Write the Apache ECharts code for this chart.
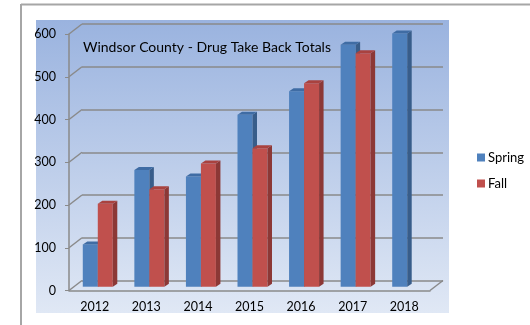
<!DOCTYPE html>
<html><head><meta charset="utf-8">
<script src="https://cdn.jsdelivr.net/npm/echarts@6/dist/echarts.min.js"></script>
<style>html,body{margin:0;padding:0;background:#fff}#c{width:530px;height:325px}</style>
</head><body><div id="c"></div>
<script>
var years = ['2012','2013','2014','2015','2016','2017','2018'];
var spring = [99, 273, 258, 402, 457, 566, 592];
var fall = [194, 228, 288, 324, 476, 546, null];
var yTicks = [0, 100, 200, 300, 400, 500, 600];
var titleText = 'Windsor County - Drug Take Back Totals';

var FONT = 'Lato';
var chart = echarts.init(document.getElementById('c'), null, {renderer: 'canvas'});

var BACK_DX = 13, BACK_DY = -10;
var BAR_DX = 3, BAR_DY = -3.8, BAR_W = 15, SIDE_DX = 4.5, SIDE_DY = -3;

function barRender(isFall, front, side, top) {
  return function (params, api) {
    var v = api.value(1);
    if (v == null || isNaN(v)) return;
    var i = api.value(0);
    var base = api.coord([i, 0]);
    var tp = api.coord([i, v]);
    var cx = base[0];
    var x0 = isFall ? cx + BAR_DX : cx + BAR_DX - BAR_W;
    var x1 = x0 + BAR_W;
    var yb = base[1] + BAR_DY, yt = tp[1] + BAR_DY;
    return {
      type: 'group',
      children: [
        {type: 'rect', shape: {x: x0, y: yt, width: BAR_W, height: yb - yt}, style: {fill: front}},
        {type: 'polygon', shape: {points: [[x1, yt], [x1 + SIDE_DX, yt + SIDE_DY], [x1 + SIDE_DX, yb + SIDE_DY], [x1, yb]]}, style: {fill: side}},
        {type: 'polygon', shape: {points: [[x0, yt], [x0 + SIDE_DX, yt + SIDE_DY], [x1 + SIDE_DX, yt + SIDE_DY], [x1, yt]]}, style: {fill: top}}
      ]
    };
  };
}

function diagRender(params, api) {
  var v = api.value(0);
  var p = api.coord([0, v]);
  var x = p[0] - api.size([1, 0])[0] / 2;
  return {type: 'line', shape: {x1: x, y1: p[1], x2: x + BACK_DX, y2: p[1] + BACK_DY}, style: {stroke: '#8a8a8a', lineWidth: 1.5}};
}
function floorRender(params, api) {
  var p = api.coord([years.length - 1, 0]);
  var x = p[0] + api.size([1, 0])[0] / 2;
  return {type: 'line', shape: {x1: x, y1: p[1], x2: x + BACK_DX, y2: p[1] + BACK_DY}, style: {stroke: '#8a8a8a', lineWidth: 1.5}};
}

var option = {
  animation: false,
  textStyle: {fontFamily: FONT},
  graphic: [
    {type: 'rect', z: -10, shape: {x: 36, y: 20, width: 413, height: 293},
     style: {fill: new echarts.graphic.LinearGradient(0, 0, 0, 1, [{offset: 0, color: '#9ab3df'}, {offset: 1, color: '#e0e8f5'}])}},
    {type: 'line', z: -10, shape: {x1: 21, y1: 4.5, x2: 530, y2: 4.5}, style: {stroke: '#a6a6a6', lineWidth: 2}},
    {type: 'line', z: -10, shape: {x1: 21, y1: 4, x2: 21, y2: 325}, style: {stroke: '#a6a6a6', lineWidth: 2}}
  ],
  title: {text: titleText, left: 78, top: 35,
    textStyle: {fontFamily: FONT, fontSize: 14, fontWeight: 'normal', color: '#000'}},
  legend: {orient: 'vertical', left: 472, top: 146, itemWidth: 8, itemHeight: 8, itemGap: 13,
    icon: 'rect', data: ['Spring', 'Fall'],
    textStyle: {fontFamily: FONT, fontSize: 13, color: '#000', padding: [0, 0, 0, -2]}},
  grid: [
    {left: 69, right: 100, top: 34, bottom: 34.5},
    {left: 82, right: 87, top: 24, bottom: 44.3}
  ],
  xAxis: [
    {type: 'category', gridIndex: 0, data: years,
     axisLine: {lineStyle: {color: '#8a8a8a', width: 1.5}},
     axisTick: {length: 4, lineStyle: {color: '#8a8a8a'}},
     axisLabel: {fontFamily: FONT, fontSize: 12.5, color: '#000', margin: 10}},
    {type: 'category', gridIndex: 1, data: years, show: false}
  ],
  yAxis: [
    {type: 'value', gridIndex: 0, min: 0, max: 600, interval: 100,
     axisLine: {show: true, lineStyle: {color: '#8a8a8a', width: 1.5}},
     axisTick: {show: true, length: 4, lineStyle: {color: '#8a8a8a'}},
     splitLine: {show: false},
     axisLabel: {fontFamily: FONT, fontSize: 12.5, color: '#000', margin: 13}},
    {type: 'value', gridIndex: 1, min: 0, max: 600, interval: 100,
     axisLine: {show: false}, axisTick: {show: false}, axisLabel: {show: false},
     splitLine: {show: true, lineStyle: {color: '#8a8a8a', width: 1.5}}}
  ],
  series: [
    {type: 'custom', name: 'diag', xAxisIndex: 0, yAxisIndex: 0, z: 1, silent: true,
     renderItem: diagRender, data: yTicks.map(function (t) { return [t]; }), encode: {y: 0}},
    {type: 'custom', name: 'floor', xAxisIndex: 0, yAxisIndex: 0, z: 1, silent: true,
     renderItem: floorRender, data: [[0]]},
    {type: 'custom', name: 'Spring', xAxisIndex: 0, yAxisIndex: 0, z: 5,
     itemStyle: {color: '#4f81bd'},
     renderItem: barRender(false, '#4f81bd', '#385d8a', '#3f6ca4'),
     encode: {x: 0, y: 1},
     data: spring.map(function (v, i) { return [i, v]; })},
    {type: 'custom', name: 'Fall', xAxisIndex: 0, yAxisIndex: 0, z: 6,
     itemStyle: {color: '#c0504d'},
     renderItem: barRender(true, '#c0504d', '#8c3836', '#a9423f'),
     encode: {x: 0, y: 1},
     data: fall.map(function (v, i) { return [i, v]; })}
  ]
};
chart.setOption(option);
</script></body></html>
